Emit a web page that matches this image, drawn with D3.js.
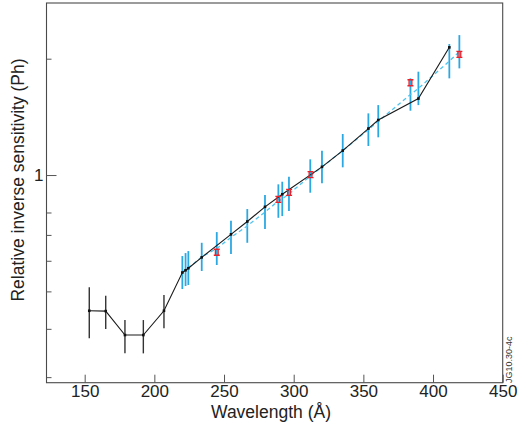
<!DOCTYPE html>
<html>
<head>
<meta charset="utf-8">
<script src="https://cdn.jsdelivr.net/npm/d3@7"></script>
<style>
  body { margin: 0; background: #fff; }
  svg { display: block; font-family: "Liberation Sans", Arial, Helvetica, sans-serif; }
</style>
</head>
<body>
<div id="root"></div>
<script>
// Black series (line + small markers), wavelength in Å
const blackWavelength = [153.3, 165.1, 178.9, 192.1, 206.9, 220.1, 222.4, 224.4, 234.0, 255.0, 266.7, 279.4, 291.8, 320.3, 335.2, 353.6, 360.7, 389.5, 411.7];
const blackValue = [0.4455, 0.4446, 0.3855, 0.3855, 0.4455, 0.5595, 0.567, 0.574, 0.6124, 0.7024, 0.7581, 0.8274, 0.8919, 1.05, 1.157, 1.319, 1.388, 1.577, 2.14];
// Error bars for the first five black points
const blackErrLow = [0.3781, 0.3995, 0.3456, 0.3456, 0.4012];
const blackErrHigh = [0.5124, 0.4873, 0.4215, 0.4215, 0.4893];

// Blue error bars
const blueWavelength = [220.1, 222.4, 224.4, 234.0, 244.8, 255.0, 266.7, 279.4, 289.0, 291.8, 296.6, 311.9, 320.3, 335.2, 353.6, 360.7, 383.8, 389.5, 411.7, 418.9];
const blueLow = [0.507, 0.5162, 0.5193, 0.5645, 0.585, 0.6245, 0.6679, 0.7249, 0.7751, 0.7831, 0.8069, 0.9, 0.9517, 1.047, 1.189, 1.252, 1.467, 1.517, 1.779, 1.888];
const blueHigh = [0.6172, 0.6282, 0.6357, 0.6679, 0.7119, 0.7615, 0.8166, 0.8876, 0.9461, 0.9609, 0.9899, 1.098, 1.156, 1.277, 1.444, 1.517, 1.779, 1.851, 2.183, 2.302];

// Red markers
const redWavelength = [244.8, 289.0, 296.7, 312.1, 383.8, 418.9];
const redValue = [0.6313, 0.8652, 0.9021, 1.003, 1.733, 2.052];

// Ticks
const xTicks = [150, 200, 250, 300, 350, 400, 450];
const yMinorTicks = [0.3, 0.4, 0.5, 0.6, 0.7, 0.8, 2];
const yMajorTicks = [1];

const width = 519;
const height = 423;
const plot = { left: 46.5, right: 502.7, top: 3, bottom: 382.7 };

const svg = d3.select("#root")
  .append("svg")
  .attr("width", width)
  .attr("height", height);

const x = d3.scaleLinear().domain([122.6, 450]).range([plot.left, plot.right]);
const y = d3.scaleLog().domain([0.2902, 2.787]).range([plot.bottom, plot.top]);

// Frame
svg.append("rect")
  .attr("x", plot.left)
  .attr("y", plot.top)
  .attr("width", plot.right - plot.left)
  .attr("height", plot.bottom - plot.top)
  .attr("fill", "none")
  .attr("stroke", "#4a4a4a")
  .attr("stroke-width", 1.1);

// X axis (ticks pointing inward)
const xAxis = svg.append("g")
  .attr("transform", `translate(0,${plot.bottom})`)
  .call(d3.axisBottom(x).tickValues(xTicks).tickSize(-8).tickPadding(2.5).tickFormat(d3.format("d")));
xAxis.select(".domain").remove();
xAxis.selectAll("line").attr("stroke", "#555");
xAxis.selectAll("text").attr("fill", "#222").style("font-size", "17px");

// Y axis: minor and major ticks
const yMinor = svg.append("g")
  .attr("transform", `translate(${plot.left},0)`)
  .call(d3.axisLeft(y).tickValues(yMinorTicks).tickSize(-5).tickFormat(""));
yMinor.select(".domain").remove();
yMinor.selectAll("line").attr("stroke", "#555");

const yMajor = svg.append("g")
  .attr("transform", `translate(${plot.left},0)`)
  .call(d3.axisLeft(y).tickValues(yMajorTicks).tickSize(-10).tickPadding(3).tickFormat(d3.format("d")));
yMajor.select(".domain").remove();
yMajor.selectAll("line").attr("stroke", "#555");
yMajor.selectAll("text").attr("fill", "#222").style("font-size", "17px");

// Axis titles
svg.append("text")
  .attr("x", 271)
  .attr("y", 418)
  .attr("text-anchor", "middle")
  .style("font-size", "17.5px")
  .attr("fill", "#222")
  .text("Wavelength (Å)");

svg.append("text")
  .attr("transform", "translate(24,180) rotate(-90)")
  .attr("text-anchor", "middle")
  .style("font-size", "17.5px")
  .attr("fill", "#222")
  .text("Relative inverse sensitivity (Ph)");

// Figure code
svg.append("text")
  .attr("transform", "translate(512,383) rotate(-90)")
  .attr("text-anchor", "start")
  .style("font-size", "9px")
  .attr("fill", "#333")
  .text("JG10.30-4c");

// Blue error bars
svg.append("g")
  .selectAll("line")
  .data(blueWavelength)
  .join("line")
  .attr("x1", (d) => x(d))
  .attr("x2", (d) => x(d))
  .attr("y1", (d, i) => y(blueHigh[i]))
  .attr("y2", (d, i) => y(blueLow[i]))
  .attr("stroke", "#2ba8e2")
  .attr("stroke-width", 1.8);

// Blue dashed line through bar centres
const blueCentres = blueWavelength.map((w, i) => [w, Math.sqrt(blueLow[i] * blueHigh[i])]);
svg.append("path")
  .datum(blueCentres)
  .attr("fill", "none")
  .attr("stroke", "#4fc3f0")
  .attr("stroke-width", 1.3)
  .attr("stroke-dasharray", "4,3")
  .attr("d", d3.line().x((d) => x(d[0])).y((d) => y(d[1])));

// Black error bars
svg.append("g")
  .selectAll("line")
  .data(blackErrLow)
  .join("line")
  .attr("x1", (d, i) => x(blackWavelength[i]))
  .attr("x2", (d, i) => x(blackWavelength[i]))
  .attr("y1", (d, i) => y(blackErrHigh[i]))
  .attr("y2", (d) => y(d))
  .attr("stroke", "#333")
  .attr("stroke-width", 1.4);

// Black line
const blackPoints = blackWavelength.map((w, i) => [w, blackValue[i]]);
svg.append("path")
  .datum(blackPoints)
  .attr("fill", "none")
  .attr("stroke", "#1a1a1a")
  .attr("stroke-width", 1.1)
  .attr("d", d3.line().x((d) => x(d[0])).y((d) => y(d[1])));

// Black markers
svg.append("g")
  .selectAll("rect")
  .data(blackPoints)
  .join("rect")
  .attr("x", (d) => x(d[0]) - 1.3)
  .attr("y", (d) => y(d[1]) - 1.3)
  .attr("width", 2.6)
  .attr("height", 2.6)
  .attr("fill", "#111");

// Red markers
svg.append("g")
  .selectAll("path")
  .data(redWavelength)
  .join("path")
  .attr("transform", (d, i) => `translate(${x(d)},${y(redValue[i])})`)
  .attr("d", "M-3,-3H3M-3,3H3M-1.4,-3V3M1.4,-3V3")
  .attr("fill", "none")
  .attr("stroke", "#e8212a")
  .attr("stroke-width", 1.3);
</script>
</body>
</html>
